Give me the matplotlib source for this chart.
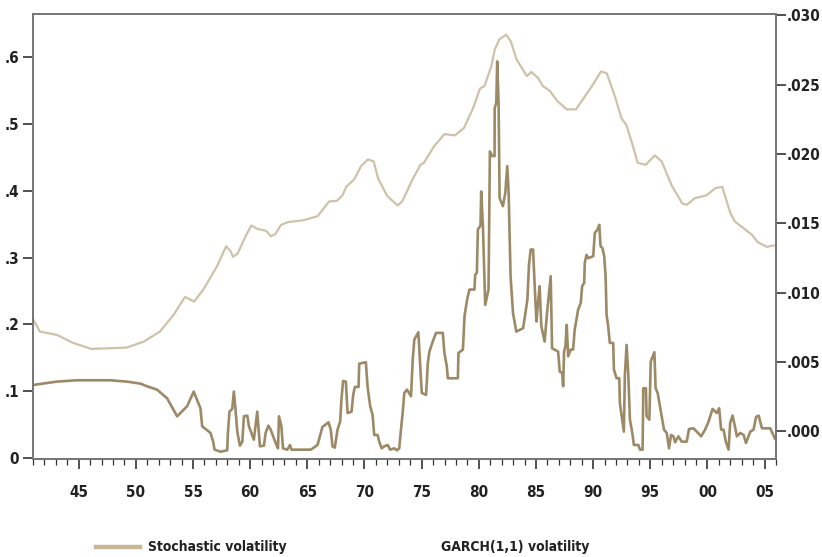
import matplotlib
matplotlib.use('Agg')
import matplotlib.pyplot as plt
from matplotlib.lines import Line2D
from matplotlib.ticker import MultipleLocator, FixedLocator
from matplotlib import font_manager

# stochastic volatility (smooth, light line): (year, value)
sv_points = [
    (1941.0, 0.208), (1941.6, 0.189), (1943.1, 0.184), (1944.5, 0.172), (1946.1, 0.163),
    (1949.2, 0.165), (1950.7, 0.174), (1952.1, 0.189), (1953.3, 0.214), (1954.3, 0.241),
    (1955.1, 0.234), (1955.9, 0.252), (1957.1, 0.287), (1957.9, 0.317), (1958.3, 0.309),
    (1958.5, 0.301), (1958.9, 0.306), (1959.6, 0.332), (1960.1, 0.348), (1960.6, 0.343),
    (1961.4, 0.340), (1961.8, 0.332), (1962.2, 0.335), (1962.7, 0.349), (1963.3, 0.353),
    (1964.7, 0.356), (1965.9, 0.362), (1966.9, 0.384), (1967.6, 0.385), (1968.1, 0.394),
    (1968.4, 0.406), (1969.1, 0.417), (1969.7, 0.437), (1970.3, 0.447), (1970.8, 0.444),
    (1971.2, 0.418), (1972.0, 0.392), (1972.9, 0.378), (1973.3, 0.384), (1974.2, 0.417),
    (1974.9, 0.439), (1975.2, 0.442), (1976.1, 0.467), (1977.0, 0.485), (1977.9, 0.483),
    (1978.7, 0.494), (1979.5, 0.524), (1980.1, 0.553), (1980.5, 0.557), (1981.1, 0.587),
    (1981.4, 0.612), (1981.8, 0.627), (1982.4, 0.634), (1982.8, 0.624), (1983.3, 0.597),
    (1984.2, 0.572), (1984.6, 0.578), (1985.2, 0.569), (1985.6, 0.557), (1986.2, 0.550),
    (1986.9, 0.534), (1987.7, 0.522), (1988.5, 0.522), (1989.9, 0.557), (1990.7, 0.579),
    (1991.2, 0.576), (1991.9, 0.542), (1992.5, 0.508), (1992.9, 0.499), (1993.4, 0.472),
    (1993.9, 0.442), (1994.6, 0.439), (1995.4, 0.453), (1996.0, 0.444), (1996.9, 0.407),
    (1997.8, 0.381), (1998.2, 0.379), (1998.9, 0.389), (1999.9, 0.393), (2000.7, 0.404),
    (2001.3, 0.406), (2002.0, 0.367), (2002.4, 0.354), (2003.3, 0.342), (2003.9, 0.334),
    (2004.4, 0.323), (2005.2, 0.316), (2005.8, 0.318),
]

# GARCH(1,1) volatility (jagged, dark line): (year, value)
garch_points = [
    (1941.03, 0.109), (1943.08, 0.114), (1944.83, 0.116), (1947.75, 0.116), (1949.22, 0.114),
    (1950.39, 0.111), (1950.97, 0.107), (1951.85, 0.102), (1952.73, 0.089), (1953.61, 0.062),
    (1954.48, 0.077), (1955.06, 0.099), (1955.65, 0.074), (1955.80, 0.047), (1956.53, 0.037),
    (1956.76, 0.024), (1956.88, 0.012), (1957.40, 0.009), (1957.99, 0.011), (1958.04, 0.034),
    (1958.19, 0.069), (1958.43, 0.073), (1958.57, 0.099), (1958.72, 0.072), (1958.87, 0.039),
    (1959.10, 0.018), (1959.31, 0.024), (1959.45, 0.062), (1959.75, 0.063), (1959.89, 0.047),
    (1960.32, 0.027), (1960.62, 0.069), (1960.85, 0.017), (1961.20, 0.018), (1961.35, 0.037),
    (1961.59, 0.048), (1961.79, 0.042), (1962.23, 0.022), (1962.43, 0.014), (1962.52, 0.062),
    (1962.73, 0.047), (1962.87, 0.014), (1963.25, 0.012), (1963.48, 0.019), (1963.61, 0.012),
    (1965.30, 0.012), (1965.89, 0.019), (1966.18, 0.037), (1966.32, 0.046), (1966.85, 0.053),
    (1967.05, 0.042), (1967.20, 0.017), (1967.40, 0.015), (1967.64, 0.042), (1967.87, 0.054),
    (1967.99, 0.089), (1968.13, 0.115), (1968.37, 0.114), (1968.52, 0.067), (1968.87, 0.069),
    (1969.01, 0.094), (1969.16, 0.106), (1969.48, 0.106), (1969.54, 0.141), (1970.12, 0.143),
    (1970.27, 0.106), (1970.50, 0.077), (1970.71, 0.064), (1970.85, 0.034), (1971.15, 0.034),
    (1971.29, 0.024), (1971.50, 0.014), (1971.73, 0.017), (1972.03, 0.019), (1972.25, 0.012),
    (1972.61, 0.014), (1972.84, 0.011), (1973.04, 0.014), (1973.19, 0.042), (1973.34, 0.067),
    (1973.48, 0.097), (1973.72, 0.102), (1974.07, 0.092), (1974.22, 0.147), (1974.36, 0.177),
    (1974.71, 0.188), (1974.89, 0.134), (1975.01, 0.097), (1975.39, 0.094), (1975.54, 0.142),
    (1975.68, 0.159), (1975.97, 0.174), (1976.26, 0.187), (1976.85, 0.187), (1976.99, 0.157),
    (1977.20, 0.137), (1977.29, 0.119), (1978.17, 0.119), (1978.22, 0.157), (1978.61, 0.162),
    (1978.75, 0.212), (1978.98, 0.237), (1979.18, 0.252), (1979.62, 0.252), (1979.68, 0.274),
    (1979.83, 0.277), (1979.92, 0.342), (1980.15, 0.348), (1980.21, 0.399), (1980.36, 0.347),
    (1980.56, 0.229), (1980.85, 0.252), (1980.97, 0.459), (1981.18, 0.452), (1981.38, 0.452),
    (1981.39, 0.524), (1981.53, 0.532), (1981.61, 0.594), (1981.73, 0.532), (1981.82, 0.389),
    (1982.11, 0.377), (1982.32, 0.397), (1982.49, 0.437), (1982.61, 0.397), (1982.78, 0.272),
    (1982.99, 0.217), (1983.28, 0.189), (1983.87, 0.194), (1984.01, 0.209), (1984.25, 0.237),
    (1984.39, 0.289), (1984.54, 0.312), (1984.75, 0.312), (1984.89, 0.257), (1985.04, 0.204),
    (1985.18, 0.232), (1985.32, 0.257), (1985.47, 0.197), (1985.76, 0.174), (1985.97, 0.217),
    (1986.29, 0.272), (1986.41, 0.164), (1986.94, 0.159), (1987.08, 0.129), (1987.29, 0.127),
    (1987.38, 0.107), (1987.46, 0.159), (1987.58, 0.167), (1987.69, 0.199), (1987.82, 0.152),
    (1988.04, 0.162), (1988.25, 0.162), (1988.39, 0.192), (1988.69, 0.222), (1988.92, 0.232),
    (1989.04, 0.257), (1989.22, 0.262), (1989.27, 0.292), (1989.42, 0.304), (1989.57, 0.299),
    (1990.01, 0.302), (1990.15, 0.337), (1990.39, 0.342), (1990.54, 0.349), (1990.65, 0.317),
    (1990.82, 0.314), (1990.97, 0.302), (1991.09, 0.273), (1991.18, 0.214), (1991.32, 0.197),
    (1991.46, 0.172), (1991.76, 0.172), (1991.82, 0.132), (1992.05, 0.119), (1992.29, 0.119),
    (1992.34, 0.082), (1992.69, 0.039), (1992.78, 0.124), (1992.93, 0.169), (1993.08, 0.124),
    (1993.22, 0.057), (1993.43, 0.037), (1993.57, 0.019), (1993.96, 0.019), (1994.10, 0.012),
    (1994.33, 0.012), (1994.39, 0.104), (1994.62, 0.104), (1994.68, 0.062), (1994.92, 0.057),
    (1995.04, 0.144), (1995.36, 0.158), (1995.47, 0.104), (1995.65, 0.097), (1995.85, 0.077),
    (1996.00, 0.062), (1996.20, 0.042), (1996.44, 0.037), (1996.64, 0.014), (1996.82, 0.034),
    (1997.03, 0.032), (1997.17, 0.023), (1997.46, 0.032), (1997.75, 0.024), (1998.19, 0.024),
    (1998.39, 0.043), (1998.78, 0.044), (1999.07, 0.039), (1999.45, 0.032), (1999.80, 0.042),
    (2000.10, 0.054), (2000.45, 0.073), (2000.82, 0.067), (2001.03, 0.074), (2001.20, 0.042),
    (2001.41, 0.042), (2001.61, 0.024), (2001.85, 0.012), (2001.99, 0.052), (2002.20, 0.063),
    (2002.38, 0.049), (2002.58, 0.032), (2002.87, 0.037), (2003.17, 0.034), (2003.37, 0.022),
    (2003.75, 0.039), (2004.04, 0.042), (2004.25, 0.061), (2004.48, 0.063), (2004.77, 0.044),
    (2005.50, 0.044), (2005.89, 0.029),
]

sv_year, sv_value = zip(*sv_points)
garch_year, garch_value = zip(*garch_points)

left_ticks = [0, 0.1, 0.2, 0.3, 0.4, 0.5, 0.6]
left_labels = ['0', '.1', '.2', '.3', '.4', '.5', '.6']
right_ticks = [0.0, 0.005, 0.010, 0.015, 0.020, 0.025, 0.030]
right_labels = ['.000', '.005', '.010', '.015', '.020', '.025', '.030']
year_ticks = [1945, 1950, 1955, 1960, 1965, 1970, 1975, 1980, 1985, 1990, 1995, 2000, 2005]
year_labels = ['45', '50', '55', '60', '65', '70', '75', '80', '85', '90', '95', '00', '05']

light = '#cec2a8'
dark = '#9c8a67'
legend_col = '#c7b794'
spine_col = '#777777'
txt = '#222222'

# narrow face if one is around, otherwise condensed DejaVu
names = {f.name for f in font_manager.fontManager.ttflist}
FONT = [n for n in ('Liberation Sans Narrow', 'DejaVu Sans Condensed') if n in names] + ['DejaVu Sans']
print(FONT)

plt.rcParams['font.family'] = FONT
plt.rcParams['font.weight'] = 'bold'
plt.rcParams['font.stretch'] = 'condensed'

fig = plt.figure(figsize=(8.22, 5.57), dpi=100)
ax = fig.add_axes([33/822, 98/557, 743/822, 445/557])

ax.plot(sv_year, sv_value, color=light, lw=1.6, solid_joinstyle='round')
ax.plot(garch_year, garch_value, color=dark, lw=1.9, solid_joinstyle='round')

ax.set_xlim(1941, 2006)
ax.set_ylim(-0.002, 0.665)

ax.xaxis.set_major_locator(FixedLocator(year_ticks))
ax.set_xticklabels(year_labels)
ax.xaxis.set_minor_locator(MultipleLocator(1))
ax.set_yticks(left_ticks)
ax.set_yticklabels(left_labels)

ax.tick_params(axis='x', which='major', direction='out', length=7, width=1.2,
               color='#333333', pad=12, labelsize=11, labelcolor=txt)
ax.tick_params(axis='x', which='minor', direction='out', length=4, width=0.9, color='#333333')
ax.tick_params(axis='y', direction='out', length=7, width=1.2, color='#333333',
               pad=3, labelsize=11, labelcolor=txt)

# right hand scale
ax2 = ax.twinx()
ax2.set_ylim(-0.002, 0.0301)
ax2.set_yticks(right_ticks)
ax2.set_yticklabels(right_labels)
ax2.tick_params(axis='y', direction='out', length=7, width=1.2, color='#333333',
                pad=1, labelsize=11, labelcolor=txt)

for a in (ax, ax2):
    for s in a.spines.values():
        s.set_color(spine_col)
        s.set_linewidth(1.3)

# legend under the chart
fig.add_artist(Line2D([96/822, 140/822], [1 - 547/557, 1 - 547/557],
                      transform=fig.transFigure, color=legend_col, lw=3.2))
fig.text(148/822, 1 - 547/557, 'Stochastic volatility', ha='left', va='center',
         fontsize=10, color=txt, fontweight='bold')
fig.text(441/822, 1 - 547/557, 'GARCH(1,1) volatility', ha='left', va='center',
         fontsize=10, color=txt, fontweight='bold')

fig.savefig('out.png', dpi=100)
